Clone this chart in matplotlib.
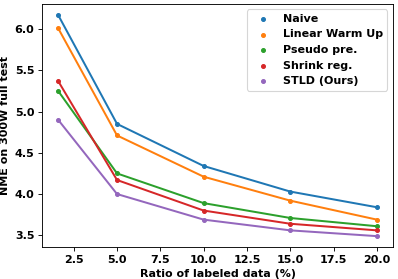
import matplotlib
matplotlib.use('Agg')
import matplotlib.pyplot as plt

ratios = [1.6, 5, 10, 15, 20]
methods = ['Naive', 'Linear Warm Up', 'Pseudo pre.', 'Shrink reg.', 'STLD (Ours)']
naive = [6.17, 4.85, 4.34, 4.03, 3.84]
linear = [6.01, 4.71, 4.21, 3.92, 3.69]
pseudo = [5.25, 4.25, 3.89, 3.71, 3.61]
shrink = [5.37, 4.17, 3.80, 3.64, 3.56]
stld = [4.90, 4.00, 3.69, 3.56, 3.49]
colors = ['tab:blue', 'tab:orange', 'tab:green', 'tab:red', 'tab:purple']

plt.rcParams['font.weight'] = 'bold'
plt.rcParams['axes.labelweight'] = 'bold'
plt.rcParams['font.size'] = 10

# figure drawn at 80 dpi so everything is ~0.8x the default sizes
fig, ax = plt.subplots(figsize=(398 / 80, 279 / 80), dpi=80)
for vals, name, c in zip([naive, linear, pseudo, shrink, stld], methods, colors):
    ax.plot(ratios, vals, color=c, linewidth=1.8)
    ax.scatter(ratios, vals, color=c, s=12, label=name, zorder=3)

ax.set_xticks([2.5, 5, 7.5, 10, 12.5, 15, 17.5, 20])
ax.set_xlabel('Ratio of labeled data (%)')
ax.set_ylabel('NME on 300W full test')
ax.legend(loc='upper right')
plt.subplots_adjust(left=0.106, right=0.987, top=0.986, bottom=0.114)
plt.savefig('out.png')
